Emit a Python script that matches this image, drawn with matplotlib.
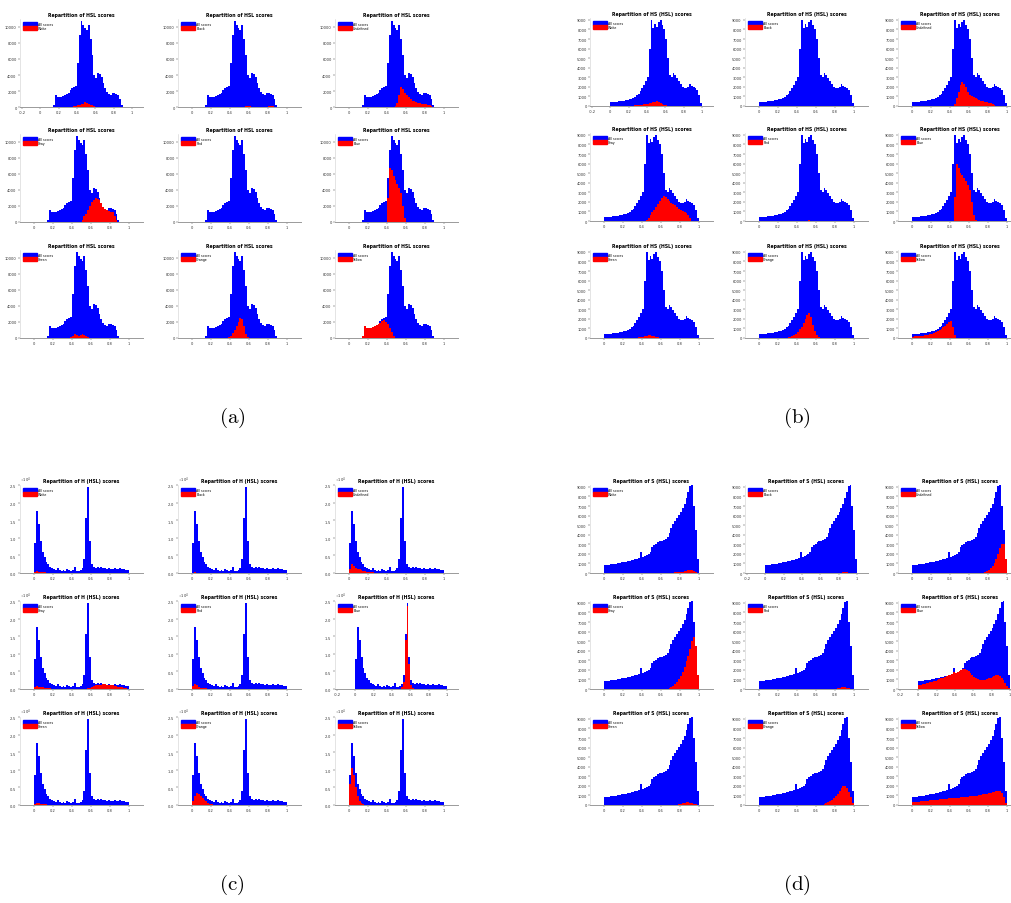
import matplotlib
matplotlib.use('Agg')
import matplotlib.pyplot as plt
import matplotlib.ticker as mticker
from matplotlib.patches import Patch
import numpy as np

plt.rcParams['mathtext.fontset'] = 'cm'
plt.rcParams['font.family'] = ['DejaVu Sans']

W, H = 1012, 904
NB = 50
bin_edges = np.round(np.linspace(0, 1, NB + 1), 2)

color_names = ['White', 'Black', 'Undefined',
               'Gray', 'Red', 'Blue',
               'Green', 'Orange', 'Yellow']

# ---------------- (a) HSL scores ----------------
hsl_all = [0, 0, 0, 0, 0, 0, 0, 200, 1500, 1300,
           1200, 1250, 1350, 1500, 1650, 1800, 2100, 2400, 2500, 2600,
           5500, 9000, 10800, 10300, 9900, 9600, 10200, 8500, 6500, 4000,
           3600, 4300, 4100, 3700, 3000, 2400, 1900, 1600, 1500, 1700,
           1750, 1650, 1500, 1000, 200, 0, 0, 0, 0, 0]
hsl_red = {
    'White': [(17, [50, 100, 150, 250, 300, 350, 400, 600, 500, 400, 300, 200, 100, 50])],
    'Black': [(27, [50, 80, 100, 80, 50, 30, 20, 20, 20, 20, 20, 30, 50, 80, 100, 80, 50])],
    'Undefined': [(24, [100, 500, 1500, 2500, 2200, 1800, 1500, 1200, 1000, 800, 700, 600,
                        500, 450, 400, 400, 350, 300, 200, 100])],
    'Gray': [(25, [200, 800, 1000, 1500, 2000, 2500, 2800, 3000, 2900, 2700, 2500, 2200,
                   1800, 1500, 1400, 1300, 1200, 800, 200])],
    'Red': [(22, [30, 50, 50, 30, 20])],
    'Blue': [(20, [3000, 6800, 6500, 5800, 5200, 4700, 4200, 3600, 2000, 500])],
    'Green': [(19, [100, 300, 500, 400, 300, 350, 500, 400, 200, 100])],
    'Orange': [(19, [100, 300, 600, 1000, 1500, 2000, 2500, 2400, 1500, 500, 100])],
    'Yellow': [(7, [200, 1500, 1300, 1200, 1250, 1350, 1500, 1650, 1800, 1900, 2100, 2200,
                    2000, 1700, 1200, 700, 200])],
}

# ---------------- (b) HS (HSL) scores ----------------
hs_all = [450, 450, 460, 470, 480, 500, 520, 550, 580, 620,
          680, 750, 850, 950, 1100, 1300, 1600, 1900, 2200, 2600,
          3000, 6000, 9000, 8200, 8600, 8300, 8800, 9000, 8500, 8000,
          7000, 5000, 3200, 3000, 3400, 3200, 2900, 2600, 2300, 2000,
          1900, 1900, 2000, 2300, 2100, 2000, 1900, 1700, 1200, 300]
hs_red = {
    'White': [(12, [50, 60, 80, 100, 120, 150, 180, 200, 250, 300, 350, 400, 450, 500,
                    450, 350, 250, 150, 100, 50])],
    'Black': [(25, [30, 50, 50, 30, 20, 20, 20, 20, 20, 30, 40, 30, 20])],
    'Undefined': [(22, [200, 800, 1500, 2200, 2500, 2300, 2000, 1500, 1200, 1000, 900, 800,
                        700, 600, 550, 500, 450, 400, 350, 300, 200, 100])],
    'Gray': [(22, [100, 300, 600, 900, 1200, 1500, 1800, 2100, 2400, 2600, 2500, 2300,
                   2100, 1900, 1800, 1700, 1500, 1300, 1100, 1000, 900, 800, 600, 300])],
    'Red': [(24, [20, 40, 60, 40, 20])],
    'Blue': [(22, [2500, 6000, 5500, 5000, 4800, 4500, 4200, 3800, 3200, 2000, 600, 100])],
    'Green': [(17, [50, 80, 100, 150, 200, 250, 300, 300, 250, 200, 150, 100, 50])],
    'Orange': [(14, [50, 100, 150, 200, 300, 400, 600, 900, 1200, 1600, 2000, 2400, 2600,
                     2200, 1400, 700, 300, 100])],
    'Yellow': [(0, [150, 170, 190, 200, 220, 250, 280, 320, 360, 400, 450, 500, 600, 700,
                    800, 950, 1100, 1300, 1500, 1650, 1800, 1200, 300])],
}

# ---------------- (c) H (HSL) scores ----------------
h_all = [8500, 17500, 14000, 9000, 6000, 4500, 3200, 2500, 1800, 1400,
         1100, 900, 1500, 800, 700, 900, 700, 1000, 800, 700,
         900, 1800, 700, 600, 800, 1500, 4000, 15500, 24500, 9000,
         2500, 1800, 1500, 1800, 1400, 1600, 1500, 1300, 1200, 1400,
         1200, 1100, 1300, 1200, 1100, 1500, 1200, 1000, 900, 800]
h_red = {
    'White': [(0, [300, 500, 400, 300, 200, 150, 100, 80, 60, 50])],
    'Black': [(0, [100, 150, 100, 80, 50])],
    'Undefined': [(0, [1000, 2500, 2000, 1500, 1200, 1000, 800, 600, 500, 400, 300, 250, 200])],
    'Gray': [(0, [500, 800, 700, 600, 500, 400, 300, 200, 150, 100]),
             (28, [200, 400, 600, 800, 1000, 1100, 1200, 1200, 1300, 1300, 1200, 1100, 1100,
                   1000, 900, 800, 700, 600, 500, 400, 300])],
    'Red': [(0, [800, 1500, 1000, 600, 400, 300, 200, 150, 100])],
    'Blue': [(25, [500, 2000, 14000, 23500, 7000, 1000, 300])],
    'Green': [(0, [300, 600, 500, 400, 300, 200, 150, 100])],
    'Orange': [(0, [1000, 2500, 3500, 3000, 2500, 2000, 1500, 1000, 700, 400, 200])],
    'Yellow': [(0, [6000, 10500, 8500, 5000, 2500, 1200, 600, 300])],
}

# ---------------- (d) S (HSL) scores ----------------
s_all = [800, 850, 870, 900, 930, 950, 980, 1000, 1050, 1100,
         1150, 1200, 1250, 1300, 1350, 1400, 1450, 1500, 1550, 2200,
         1650, 1750, 1850, 2000, 2200, 2700, 2900, 3000, 3200, 3300,
         3300, 3400, 3600, 3800, 4200, 4700, 5100, 5400, 5800, 6100,
         6400, 6800, 7200, 7800, 8500, 9100, 9300, 7000, 4500, 1500]
s_red = {
    'White': [(36, [50, 60, 80, 100, 120, 150, 200, 250, 300, 350, 300, 200, 100])],
    'Black': [(40, [30, 50, 80, 100, 80, 50, 30])],
    'Undefined': [(38, [100, 200, 300, 500, 700, 1000, 1500, 2000, 2600, 3000, 3000, 2000])],
    'Gray': [(34, [100, 200, 300, 500, 700, 1000, 1400, 1800, 2300, 2900, 3500, 4200, 5000,
                   5400, 5000, 3000])],
    'Red': [(40, [50, 100, 150, 200, 250, 200, 150, 80])],
    'Blue': [(0, [400, 450, 500, 550, 600, 650, 700, 750, 800, 850, 900, 1000, 1100, 1200,
                  1300, 1400, 1500, 1600, 1700, 1800, 1900, 2000, 2050, 2100, 2100, 2050,
                  2000, 1900, 1700, 1500, 1300, 1100, 1000, 950, 900, 900, 950, 1000, 1100,
                  1200, 1300, 1400, 1500, 1500, 1400, 1200, 900, 600, 300, 100])],
    'Green': [(38, [50, 100, 150, 200, 250, 300, 300, 250, 200, 150, 100])],
    'Orange': [(34, [100, 200, 300, 400, 500, 700, 900, 1200, 1500, 1800, 2000, 2000, 1800,
                     1400, 800, 200])],
    'Yellow': [(0, [300, 320, 330, 360, 380, 400, 410, 440, 460, 480, 500, 520, 530, 560,
                    580, 600, 620, 630, 660, 680, 700, 720, 740, 760, 780, 800, 820, 840,
                    860, 880, 900, 920, 940, 960, 980, 1000, 1050, 1100, 1150, 1200, 1250,
                    1300, 1350, 1400, 1450, 1500, 1500, 1300, 800, 200])],
}

panels = [
    dict(tag='(a)', title='Repartition of HSL scores', all=hsl_all, red=hsl_red,
         lefts=(20, 178, 335), bases=(108, 223, 339), ymax=11000,
         yticks=np.arange(0, 10001, 2000), sci=False, cap=(232, 418),
         neg=[(0, 0)]),
    dict(tag='(b)', title='Repartition of HS (HSL) scores', all=hs_all, red=hs_red,
         lefts=(590, 745, 898), bases=(107, 222, 339), ymax=9200,
         yticks=np.arange(0, 9001, 1000), sci=False, cap=(797, 418),
         neg=[(0, 0)]),
    dict(tag='(c)', title='Repartition of H (HSL) scores', all=h_all, red=h_red,
         lefts=(20, 178, 335), bases=(574, 690, 806), ymax=25000,
         yticks=np.arange(0, 25001, 5000), sci=True, cap=(232, 885),
         neg=[(1, 2)]),
    dict(tag='(d)', title='Repartition of S (HSL) scores', all=s_all, red=s_red,
         lefts=(590, 745, 898), bases=(574, 690, 806), ymax=9200,
         yticks=np.arange(0, 9001, 1000), sci=False, cap=(797, 885),
         neg=[(0, 1), (1, 2)]),
]


def seg_array(segs):
    arr = np.zeros(NB)
    for start, vals in segs:
        arr[start:start + len(vals)] = vals
    return arr


fig = plt.figure(figsize=(W / 100, H / 100), dpi=100)
AW, AH = 123, 88
fmt = mticker.FuncFormatter(lambda v, p: '%g' % round(v, 6))
tick_col = '#333333'
spine_col = '#9a9a9a'

for pn in panels:
    all_vals = np.array(pn['all'], dtype=float)
    for idx, name in enumerate(color_names):
        r, c = divmod(idx, 3)
        left = pn['lefts'][c]
        base = pn['bases'][r]
        ax = fig.add_axes([left / W, 1 - base / H, AW / W, AH / H])
        red_vals = np.minimum(seg_array(pn['red'][name]), all_vals)
        ax.stairs(all_vals, bin_edges, fill=True, color='#0000ff', linewidth=0)
        ax.stairs(red_vals, bin_edges, fill=True, color='#ff0000', linewidth=0)
        if (r, c) in pn['neg']:
            ax.set_xlim(-0.22, 1.12)
        else:
            ax.set_xlim(-0.15, 1.15)
        ax.set_ylim(0, pn['ymax'])
        ax.set_xticks([t for t in [-0.2, 0, 0.2, 0.4, 0.6, 0.8, 1.0]
                       if t >= ax.get_xlim()[0]])
        ax.set_yticks(pn['yticks'])
        ax.xaxis.set_major_formatter(fmt)
        if pn['sci']:
            sf = mticker.ScalarFormatter(useMathText=True)
            sf.set_powerlimits((0, 0))
            ax.yaxis.set_major_formatter(sf)
            ax.yaxis.get_offset_text().set_fontsize(2.6)
            ax.yaxis.get_offset_text().set_color(tick_col)
        else:
            ax.yaxis.set_major_formatter(fmt)
        ax.tick_params(labelsize=2.6, length=1.2, width=0.3, pad=1.2,
                       colors=tick_col)
        for s in ['top', 'right']:
            ax.spines[s].set_visible(False)
        ax.spines['bottom'].set_color(spine_col)
        ax.spines['bottom'].set_linewidth(0.7)
        ax.spines['left'].set_color('#cfcfcf')
        ax.spines['left'].set_linewidth(0.4)
        ax.set_title(pn['title'], fontsize=3.3, fontweight='bold', pad=2.5)
        handles = [Patch(color='#0000ff', label='All scores'),
                   Patch(color='#ff0000', label=name)]
        ax.legend(handles=handles, loc='upper left', fontsize=2.3, frameon=False,
                  handlelength=4.5, handleheight=1.6, borderaxespad=0.4,
                  labelspacing=0.15, handletextpad=0.4)
    fig.text(pn['cap'][0] / W, 1 - pn['cap'][1] / H, r'$\mathrm{' + pn['tag'] + '}$',
             fontsize=15, ha='center', va='center')

fig.savefig('out.png', dpi=100)
